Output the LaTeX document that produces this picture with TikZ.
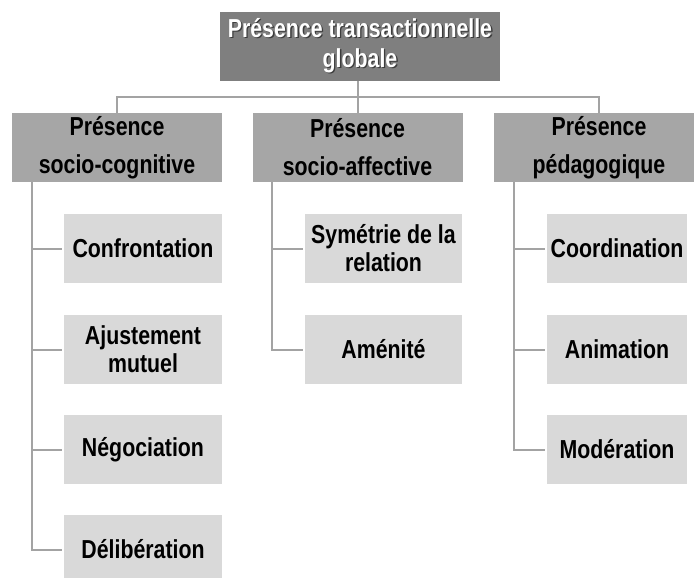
\documentclass[tikz,border=0pt]{standalone}
\usepackage{fontspec}
\setmainfont{Liberation Sans}[FakeStretch=0.82]
\usetikzlibrary{calc}

\definecolor{rootgray}{HTML}{7F7F7F}
\definecolor{midgray}{HTML}{A6A6A6}
\definecolor{leafgray}{HTML}{D9D9D9}
\definecolor{linegray}{HTML}{A3A3A3}
\definecolor{shadowgray}{HTML}{3C3C3C}

% white title text with a dark drop shadow
\newcommand\shadowtext[1]{\leavevmode\rlap{\kern1.3pt\raisebox{-1.3pt}{\color{shadowgray}#1}}#1}

\begin{document}
\begin{tikzpicture}[x=1pt,y=-1pt,
  box/.style={draw=none, inner sep=0pt, align=center, anchor=center},
  rootbox/.style={box, fill=rootgray, minimum width=280pt, minimum height=69pt,
    text=white, font=\bfseries\fontsize{26}{30}\selectfont},
  dimbox/.style={box, fill=midgray, minimum width=210pt, minimum height=69pt,
    text=black, font=\bfseries\fontsize{26}{38}\selectfont},
  leafbox/.style={box, fill=leafgray, minimum height=69pt,
    text=black, font=\bfseries\fontsize{26}{28}\selectfont},
  leafA/.style={leafbox, minimum width=158pt},
  leafB/.style={leafbox, minimum width=157pt},
  leafC/.style={leafbox, minimum width=140pt},
  conn/.style={draw=linegray, line width=2pt},
  branch/.style={conn, shorten >=1.5pt}]

\clip (0,0) rectangle (694,578);
\fill[white] (0,0) rectangle (694,578);

% root
\node[rootbox] (root) at (360,46.5)
  {\shadowtext{Présence transactionnelle}\\\shadowtext{globale}};

% three dimensions
\node[dimbox] (pA) at (117,147.5) {Présence\\socio-cognitive};
\node[dimbox] (pB) at (357.5,147.5) {Présence\\socio-affective};
\node[dimbox] (pC) at (599,147.5) {Présence\\pédagogique};

% indicators, socio-cognitive
\node[leafA] (a1) at (143,248.5) {Confrontation};
\node[leafA] (a2) at (143,349.5) {Ajustement\\mutuel};
\node[leafA] (a3) at (143,449.5) {Négociation};
\node[leafA] (a4) at (143,549.5) {Délibération};

% indicators, socio-affective
\node[leafB] (b1) at (383.5,248.5) {Symétrie de la\\relation};
\node[leafB] (b2) at (383.5,349.5) {Aménité};

% indicators, pedagogical
\node[leafC] (c1) at (617,248.5) {Coordination};
\node[leafC] (c2) at (617,349.5) {Animation};
\node[leafC] (c3) at (617,449.5) {Modération};

% root to dimensions
\draw[conn] (root.south -| pB.north) -- (pB.north);
\draw[conn] (pA.north) |- ($(root.south)+(0,16)$) -| (pC.north);

% dimensions to indicators
\foreach \k in {a1,a2,a3,a4}
  \draw[branch] ([xshift=20pt]pA.south west) |- (\k.west);
\foreach \k in {b1,b2}
  \draw[branch] ([xshift=20pt]pB.south west) |- (\k.west);
\foreach \k in {c1,c2,c3}
  \draw[branch] ([xshift=20pt]pC.south west) |- (\k.west);
\end{tikzpicture}
\end{document}
